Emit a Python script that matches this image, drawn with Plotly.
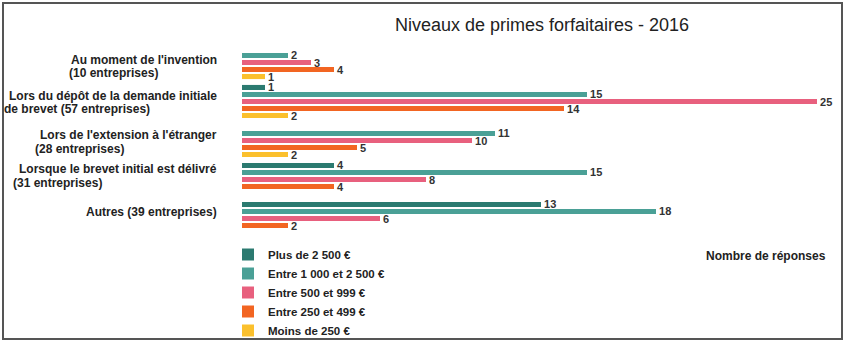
import plotly.graph_objects as go

categories = [
    "Au moment de l'invention<br>(10 entreprises)",
    "Lors du dépôt de la demande initiale<br>de brevet (57 entreprises)",
    "Lors de l'extension à l'étranger<br>(28 entreprises)",
    "Lorsque le brevet initial est délivré<br>(31 entreprises)",
    "Autres (39 entreprises)",
]
series_names = [
    "Plus de 2 500 €",
    "Entre 1 000 et 2 500 €",
    "Entre 500 et 999 €",
    "Entre 250 et 499 €",
    "Moins de 250 €",
]
plus_2500 = [0, 1, 0, 4, 13]
entre_1000_2500 = [2, 15, 11, 15, 18]
entre_500_999 = [3, 25, 10, 8, 6]
entre_250_499 = [4, 14, 5, 4, 2]
moins_250 = [1, 2, 2, 0, 0]
series_values = [plus_2500, entre_1000_2500, entre_500_999, entre_250_499, moins_250]
colors = ["#2b7a70", "#4aa096", "#e8607e", "#f26522", "#fbc02d"]

FONT = "Liberation Sans, Arial, sans-serif"
W, H = 851, 344
L, R, T, B = 242, 9, 43, 106
PW, PH = W - L - R, H - T - B


def px_x(px):
    return (px - L) / PW


def px_y(py):
    return (H - B - py) / PH


# label layout (pixel positions of each text line, as in the reference)
line1_right = 217
line1_y = [60, 96, 135, 169, 212]
line2_y = [73, 109, 149, 183, None]
line2_left = [70, 5, 36, 14, None]

fig = go.Figure()
for name, vals, col in zip(series_names, series_values, colors):
    fig.add_trace(go.Bar(
        y=categories, x=vals, name=name, orientation="h",
        marker=dict(color=col, line=dict(width=0)),
        text=[" " + str(v) if v else "" for v in vals],
        textposition="outside",
        constraintext="none",
        textfont=dict(family=FONT, size=11, color="#333333", weight="bold"),
        cliponaxis=False,
    ))

lab_font = dict(family=FONT, size=12, color="#222222", weight="bold")
annotations = []
for i, c in enumerate(categories):
    parts = c.split("<br>")
    annotations.append(dict(
        x=px_x(line1_right + 2), xref="paper", xanchor="right",
        y=px_y(line1_y[i]), yref="paper", yanchor="middle",
        text=parts[0], showarrow=False, font=lab_font,
    ))
    if len(parts) > 1:
        annotations.append(dict(
            x=px_x(line2_left[i] - 3), xref="paper", xanchor="left",
            y=px_y(line2_y[i]), yref="paper", yanchor="middle",
            text=parts[1], showarrow=False, font=lab_font,
        ))
annotations.append(dict(
    x=px_x(828), xref="paper", xanchor="right",
    y=px_y(256), yref="paper", yanchor="middle",
    text="Nombre de réponses", showarrow=False, font=lab_font,
))

fig.update_layout(
    width=W, height=H,
    margin=dict(l=L, r=R, t=T, b=B, autoexpand=False),
    paper_bgcolor="white", plot_bgcolor="white",
    barmode="group", bargap=0.1, bargroupgap=0.28,
    title=dict(text="Niveaux de primes forfaitaires - 2016",
               x=0.5, xref="paper", xanchor="center",
               y=1 - 25 / H, yref="container", yanchor="middle",
               font=dict(family=FONT, size=18, color="#222222")),
    xaxis=dict(range=[0, PW / 23], showgrid=False, zeroline=False,
               showticklabels=False, showline=False, ticks=""),
    yaxis=dict(autorange="reversed", showgrid=False, zeroline=False,
               showticklabels=False, showline=False, ticks=""),
    legend=dict(orientation="v", x=px_x(228), xanchor="left",
                y=px_y(240), yanchor="top",
                traceorder="normal", bgcolor="rgba(0,0,0,0)",
                font=dict(family=FONT, size=11.5, color="#222222", weight="bold")),
    showlegend=True,
    annotations=annotations,
    shapes=[dict(type="rect", xref="paper", yref="paper",
                 x0=px_x(3), x1=px_x(842), y0=px_y(339), y1=px_y(3),
                 line=dict(color="#555555", width=2), fillcolor="rgba(0,0,0,0)")],
)

fig.write_html("out.html")
